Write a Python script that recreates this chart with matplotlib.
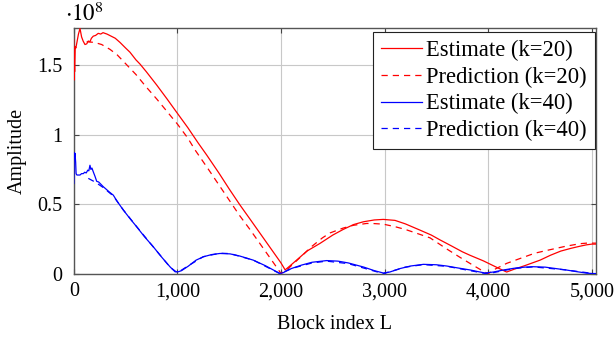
import matplotlib
matplotlib.use("Agg")
import matplotlib.pyplot as plt
from matplotlib.ticker import FuncFormatter, FixedLocator

# ---- data (amplitude in units of 1e8) ----
est20_L = [0, 2, 4, 8, 14, 20, 30, 45, 60, 75, 90, 108, 125, 140, 156, 170, 188, 210,
           236, 260, 282, 320, 360, 400, 446, 500, 542, 600, 639, 700, 800, 900, 1000,
           1100, 1200, 1283, 1400, 1500, 1604, 1700, 1800, 1900, 2000, 2040, 2080, 2150,
           2250, 2376, 2500, 2600, 2700, 2795, 2900, 2987, 3100, 3200, 3342, 3450, 3535,
           3650, 3750, 3824, 3953, 4050, 4120, 4178, 4250, 4350, 4500, 4600, 4700, 4800,
           4886, 4950, 5000, 5040]
est20_A = [1.68, 1.39, 1.55, 1.45, 1.63, 1.62, 1.66, 1.72, 1.76, 1.70, 1.67, 1.645, 1.65,
           1.67, 1.665, 1.69, 1.705, 1.71, 1.725, 1.72, 1.73, 1.72, 1.705, 1.69, 1.66, 1.62,
           1.59, 1.535, 1.505, 1.45, 1.355, 1.255, 1.152, 1.05, 0.94, 0.853, 0.725, 0.61,
           0.495, 0.395, 0.29, 0.185, 0.08, 0.03, 0.055, 0.10, 0.165, 0.22, 0.28, 0.32,
           0.355, 0.375, 0.388, 0.392, 0.385, 0.36, 0.315, 0.28, 0.245, 0.20, 0.16, 0.135,
           0.095, 0.06, 0.035, 0.015, 0.035, 0.06, 0.10, 0.135, 0.165, 0.185, 0.20, 0.21,
           0.215, 0.215]

pred20_L = [124, 200, 269, 350, 420, 478, 600, 700, 800, 900, 1000, 1100, 1170, 1300,
            1400, 1500, 1600, 1700, 1800, 1900, 1990, 2000, 2070, 2200, 2300, 2400, 2473,
            2600, 2700, 2827, 2900, 2987, 3100, 3200, 3300, 3438, 3600, 3728, 3850, 3953,
            4000, 4050, 4178, 4300, 4450, 4597, 4750, 4886, 4950, 5040]
pred20_A = [1.665, 1.66, 1.645, 1.61, 1.57, 1.525, 1.43, 1.34, 1.255, 1.165, 1.075, 0.975,
            0.89, 0.75, 0.64, 0.53, 0.42, 0.32, 0.215, 0.11, 0.015, 0.005, 0.04, 0.13,
            0.20, 0.26, 0.295, 0.33, 0.35, 0.363, 0.362, 0.358, 0.34, 0.32, 0.295, 0.26,
            0.18, 0.12, 0.065, 0.02, 0.003, 0.03, 0.077, 0.11, 0.15, 0.175, 0.20, 0.218,
            0.222, 0.222]

est40_L = [0, 3, 8, 12, 18, 22, 30, 43, 60, 75, 92, 105, 120, 135, 145, 156, 165, 175,
           188, 205, 221, 240, 260, 285, 310, 340, 381, 420, 478, 540, 607, 680, 767, 850,
           929, 977, 1010, 1040, 1105, 1180, 1250, 1330, 1411, 1508, 1600, 1733, 1850, 1950,
           1990, 2020, 2100, 2200, 2300, 2441, 2550, 2650, 2800, 2900, 2987, 3050, 3150,
           3250, 3374, 3500, 3600, 3700, 3824, 3900, 3969, 4050, 4150, 4250, 4350, 4432,
           4550, 4650, 4750, 4850, 4950, 5010, 5040]
est40_A = [0.65, 0.87, 0.84, 0.865, 0.80, 0.72, 0.71, 0.71, 0.71, 0.72, 0.72, 0.73, 0.725,
           0.745, 0.74, 0.78, 0.75, 0.76, 0.733, 0.70, 0.665, 0.66, 0.645, 0.626, 0.61,
           0.59, 0.566, 0.52, 0.459, 0.40, 0.339, 0.27, 0.196, 0.12, 0.052, 0.017, 0.017,
           0.025, 0.057, 0.10, 0.124, 0.14, 0.148, 0.145, 0.13, 0.10, 0.06, 0.02, 0.005,
           0.01, 0.04, 0.065, 0.085, 0.097, 0.093, 0.08, 0.05, 0.025, 0.008, 0.015, 0.04,
           0.058, 0.07, 0.067, 0.058, 0.045, 0.03, 0.018, 0.008, 0.015, 0.03, 0.042, 0.05,
           0.053, 0.05, 0.04, 0.03, 0.018, 0.007, 0.004, 0.004]

pred40_L = [140, 205, 285, 381, 478, 607, 767, 929, 1000, 1105, 1250, 1411, 1508, 1733,
            1990, 2100, 2300, 2441, 2650, 2987, 3200, 3374, 3600, 3990, 4250, 4432, 4750,
            5040]
pred40_A = [0.686, 0.66, 0.62, 0.56, 0.46, 0.34, 0.195, 0.05, 0.01, 0.06, 0.125, 0.15,
            0.147, 0.10, 0.003, 0.04, 0.08, 0.093, 0.075, 0.003, 0.05, 0.068, 0.056, 0.002,
            0.04, 0.052, 0.03, 0.002]

labels = ["Estimate (k=20)", "Prediction (k=20)", "Estimate (k=40)", "Prediction (k=40)"]
xticks = [0, 1000, 2000, 3000, 4000, 5000]
yticks = [0, 0.5, 1, 1.5]

# ---- style ----
plt.rcParams['font.family'] = ['Liberation Serif', 'DejaVu Serif']
plt.rcParams['mathtext.fontset'] = 'stix'
FS = 14.5
LFS = 16.3

fig = plt.figure(figsize=(6.16, 3.38), dpi=100)
ax = fig.add_axes([0.1198, 0.189, 0.9675 - 0.1198, 0.917 - 0.189])

lw = 0.9
dash = (0, (5, 4))
ax.plot(est20_L, est20_A, color='#ff0000', lw=lw, label=labels[0], zorder=3)
ax.plot(pred20_L, pred20_A, color='#ff0000', lw=lw, linestyle=dash, label=labels[1], zorder=3)
ax.plot(est40_L, est40_A, color='#0000ff', lw=lw, label=labels[2], zorder=3)
ax.plot(pred40_L, pred40_A, color='#0000ff', lw=lw, linestyle=dash, label=labels[3], zorder=3)

ax.set_xlim(0, 5040)
ax.set_ylim(0, 1.763)
ax.xaxis.set_major_locator(FixedLocator(xticks))
ax.yaxis.set_major_locator(FixedLocator(yticks))
ax.xaxis.set_major_formatter(FuncFormatter(lambda v, p: f"{int(v):,}"))
ax.yaxis.set_major_formatter(FuncFormatter(lambda v, p: f"{v:g}"))

ax.grid(True, color='#c8c8c8', lw=0.8, zorder=0)
ax.set_axisbelow(True)
for s in ax.spines.values():
    s.set_color('#555555')
    s.set_linewidth(1.0)
ax.tick_params(direction='in', length=3.5, width=0.8, color='#444444',
               top=True, right=True, labelsize=FS, pad=6)
ax.tick_params(axis='y', pad=8)

ax.set_xlabel("Block index L", fontsize=FS, labelpad=10)
ax.set_ylabel("Amplitude", fontsize=FS, labelpad=8)

fig.text(65 / 616, 1 - 21 / 338, r"$\cdot 10^{8}$", fontsize=16.5, ha='left', va='baseline')

leg = ax.legend(loc='upper right', bbox_to_anchor=(0.998, 0.985), fontsize=LFS,
                frameon=True, fancybox=False, edgecolor='#222222', framealpha=1,
                handlelength=1.8, handletextpad=0.2, labelspacing=0.25,
                borderpad=0.35, borderaxespad=0.0)
leg.get_frame().set_linewidth(0.8)

fig.savefig("out.png", dpi=100)
